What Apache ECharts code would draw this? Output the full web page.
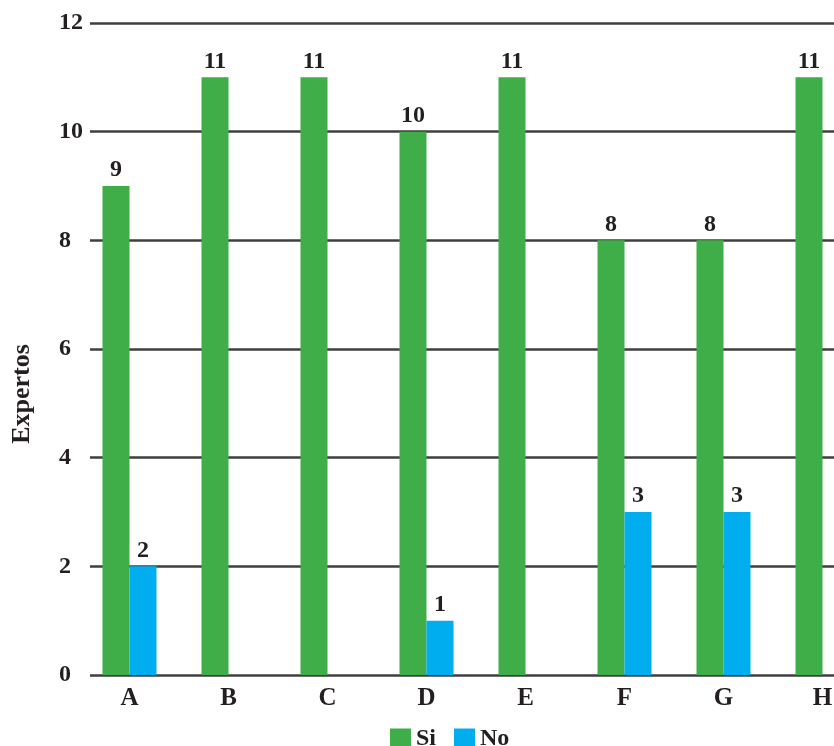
<!DOCTYPE html>
<html>
<head>
<meta charset="utf-8">
<script src="https://cdn.jsdelivr.net/npm/echarts@6/dist/echarts.min.js"></script>
<style>
  html, body { margin: 0; padding: 0; background: #ffffff; }
  #chart { width: 834px; height: 746px; }
</style>
</head>
<body>
<div id="chart"></div>
<script>
// Categories and the number of experts answering each way
const categories = ['A', 'B', 'C', 'D', 'E', 'F', 'G', 'H'];
const siValues = [9, 11, 11, 10, 11, 8, 8, 11];
const noValues = [2, 0, 0, 1, 0, 3, 3, 0];
const yTicks = { min: 0, max: 12, step: 2 };

const FONT = "'Liberation Serif', 'Times New Roman', serif";
const INK = '#231f20';
const GREEN = '#3fae49';
const BLUE = '#00aeef';

const chart = echarts.init(document.getElementById('chart'), null, { renderer: 'canvas' });

const barLabel = {
  show: true,
  position: 'top',
  distance: 4,
  color: INK,
  fontFamily: FONT,
  fontWeight: 'bold',
  fontSize: 24,
  formatter: p => (p.value === 0 ? '' : String(p.value))
};

chart.setOption({
  animation: false,
  backgroundColor: '#ffffff',
  grid: [
    // bars and category labels; the last band runs past the right edge
    { left: 80, width: 792, top: 23, bottom: 71, outerBoundsMode: 'none', containLabel: false },
    // value scale, gridlines and tick labels
    { left: 90, width: 782, top: 23, bottom: 71, outerBoundsMode: 'none', containLabel: false }
  ],
  legend: {
    data: ['Si', 'No'],
    left: 385,
    top: 722,
    icon: 'rect',
    itemWidth: 21,
    itemHeight: 21,
    itemGap: 18,
    textStyle: { color: INK, fontFamily: FONT, fontWeight: 'bold', fontSize: 24 }
  },
  xAxis: [
    {
      gridIndex: 0,
      type: 'category',
      data: categories,
      axisLine: { show: false },
      axisTick: { show: false },
      axisLabel: {
        margin: 11,
        color: INK,
        fontFamily: FONT,
        fontWeight: 'bold',
        fontSize: 25
      }
    },
    { gridIndex: 1, type: 'value', show: false }
  ],
  yAxis: [
    {
      gridIndex: 0,
      type: 'value',
      min: yTicks.min,
      max: yTicks.max,
      interval: yTicks.step,
      show: false,
      splitLine: { show: false }
    },
    {
      gridIndex: 1,
      type: 'value',
      min: yTicks.min,
      max: yTicks.max,
      interval: yTicks.step,
      axisLine: { show: false },
      axisTick: { show: false },
      axisLabel: {
        align: 'left',
        margin: 31,
        color: INK,
        fontFamily: FONT,
        fontWeight: 'bold',
        fontSize: 24
      },
      splitLine: { show: true, lineStyle: { color: '#3f3f3f', width: 2.5 } }
    }
  ],
  graphic: [
    {
      type: 'text',
      x: 22,
      y: 394,
      rotation: Math.PI / 2,
      style: {
        text: 'Expertos',
        fill: INK,
        font: 'bold 26px ' + FONT,
        textAlign: 'center',
        textVerticalAlign: 'middle'
      }
    }
  ],
  series: [
    {
      name: 'Si',
      type: 'bar',
      xAxisIndex: 0,
      yAxisIndex: 0,
      data: siValues,
      barWidth: 27,
      barGap: '0%',
      itemStyle: { color: GREEN },
      label: barLabel,
      z: 3
    },
    {
      name: 'No',
      type: 'bar',
      xAxisIndex: 0,
      yAxisIndex: 0,
      data: noValues,
      barWidth: 27,
      barGap: '0%',
      itemStyle: { color: BLUE },
      label: barLabel,
      z: 3
    }
  ]
});
</script>
</body>
</html>
